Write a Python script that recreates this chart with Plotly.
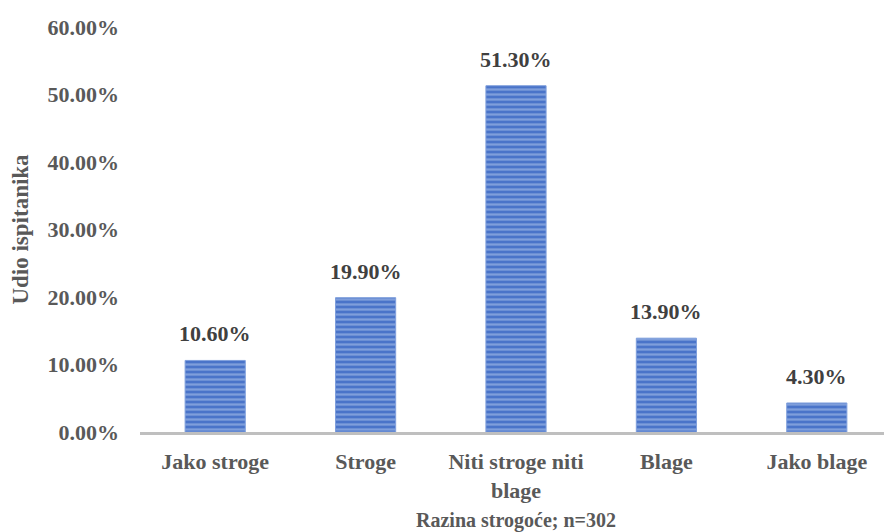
import plotly.graph_objects as go

categories = ["Jako stroge", "Stroge", "Niti stroge niti<br>blage", "Blage", "Jako blage"]
values = [0.106, 0.199, 0.513, 0.139, 0.043]
labels = ["10.60%", "19.90%", "51.30%", "13.90%", "4.30%"]
ytick_vals = [0, 0.1, 0.2, 0.3, 0.4, 0.5, 0.6]

font_family = "Liberation Serif"

fig = go.Figure(go.Bar(
    x=categories, y=values,
    marker=dict(color="#4a74c9",
                line=dict(color="#7f9fdc", width=1),
                pattern=dict(shape="-", fgcolor="#b3c8ee", bgcolor="#4a74c9",
                             size=5, solidity=0.45, fillmode="overlay")),
    width=0.4, cliponaxis=False,
))

for c, v, t in zip(categories, values, labels):
    fig.add_annotation(x=c, y=v, text="<b>%s</b>" % t, showarrow=False,
                       yanchor="bottom", yshift=12,
                       font=dict(family=font_family, size=22, color="#404040"))

fig.update_layout(
    width=884, height=524,
    margin=dict(l=132, r=0, t=19, b=100),
    plot_bgcolor="white", paper_bgcolor="white",
    showlegend=False,
    font=dict(family=font_family),
)
fig.update_yaxes(range=[0, 0.6], showgrid=False,
                 zeroline=False, showline=False,
                 tickvals=ytick_vals,
                 ticktext=["<b>%.2f%%</b>" % (v * 100) for v in ytick_vals],
                 tickfont=dict(family=font_family, size=22, color="#595959"),
                 ticklabelstandoff=20,
                 title=dict(text="<b>Udio ispitanika</b>", standoff=16,
                            font=dict(family=font_family, size=23, color="#595959")))
fig.update_xaxes(showline=True, linecolor="#bfbfbf", linewidth=3, showgrid=False,
                 ticks="",
                 tickvals=categories,
                 ticktext=["<b>%s</b>" % c for c in categories],
                 tickfont=dict(family=font_family, size=22, color="#595959"),
                 ticklabelstandoff=8,
                 title=dict(text="<b>Razina strogoće; n=302</b>", standoff=16,
                            font=dict(family=font_family, size=20, color="#595959")))

fig.write_html("out.html")
